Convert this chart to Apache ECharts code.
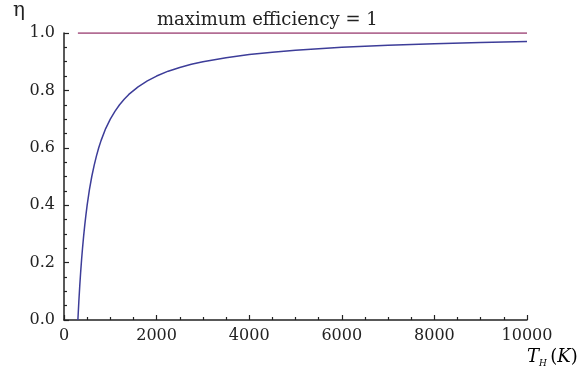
<!DOCTYPE html>
<html>
<head>
<meta charset="utf-8">
<script src="https://cdn.jsdelivr.net/npm/echarts@6/dist/echarts.min.js"></script>
<style>html,body{margin:0;padding:0;background:#fff;}#c{width:585px;height:379px;}</style>
</head>
<body>
<div id="c"></div>
<script>
// Efficiency curve
const curveT = [300, 320, 340, 360, 380, 400, 425, 450, 475, 500, 550, 600, 650, 700, 750, 800, 900, 1000, 1100, 1200, 1300, 1400, 1600, 1800, 2000, 2250, 2500, 2750, 3000, 3500, 4000, 4500, 5000, 6000, 7000, 8000, 9000, 10000];
const curveEta = [0, 0.0625, 0.118, 0.167, 0.211, 0.25, 0.294, 0.333, 0.368, 0.40, 0.455, 0.50, 0.538, 0.571, 0.60, 0.625, 0.667, 0.70, 0.727, 0.75, 0.769, 0.786, 0.8125, 0.833, 0.85, 0.867, 0.88, 0.891, 0.90, 0.914, 0.925, 0.933, 0.94, 0.95, 0.957, 0.9625, 0.967, 0.97];
// Maximum efficiency line
const maxT = [300, 10000];
const maxEta = [1, 1];
const xTicks = [0, 2000, 4000, 6000, 8000, 10000];
const yTicks = [0.0, 0.2, 0.4, 0.6, 0.8, 1.0];
const labelText = 'maximum efficiency = 1';

const serif = '"DejaVu Serif", "Liberation Serif", serif';
const chart = echarts.init(document.getElementById('c'));
chart.setOption({
  animation: false,
  backgroundColor: '#fff',
  grid: {left: 64, right: 58, top: 33, bottom: 59, containLabel: false},
  xAxis: {
    type: 'value', min: xTicks[0], max: xTicks[xTicks.length - 1], interval: xTicks[1] - xTicks[0],
    axisLine: {lineStyle: {color: '#222', width: 1.5}},
    axisTick: {inside: true, length: 5, lineStyle: {color: '#222', width: 1.2}},
    minorTick: {show: true, splitNumber: 4, length: 3, lineStyle: {color: '#222', width: 1.2}},
    splitLine: {show: false},
    axisLabel: {fontFamily: serif, fontSize: 16, color: '#222', margin: 8, formatter: v => String(v)}
  },
  yAxis: {
    type: 'value', min: yTicks[0], max: yTicks[yTicks.length - 1], interval: 0.2,
    axisLine: {show: true, lineStyle: {color: '#222', width: 1.5}},
    axisTick: {show: true, inside: true, length: 5, lineStyle: {color: '#222', width: 1.2}},
    minorTick: {show: true, splitNumber: 4, length: 3, lineStyle: {color: '#222', width: 1.2}},
    splitLine: {show: false},
    axisLabel: {fontFamily: serif, fontSize: 16, color: '#222', margin: 9, formatter: v => v.toFixed(1)}
  },
  series: [
    {
      type: 'line', data: curveT.map((t, i) => [t, curveEta[i]]),
      showSymbol: false,
      lineStyle: {color: '#3d3d99', width: 1.5}
    },
    {
      type: 'line', data: maxT.map((t, i) => [t, maxEta[i]]),
      showSymbol: false,
      lineStyle: {color: '#993d71', width: 1.6}
    }
  ],
  graphic: [
    {type: 'text', left: 157, top: 11, style: {text: labelText, font: '18px ' + serif, fill: '#222'}},
    {type: 'text', left: 13, top: 1, style: {text: 'η', font: '20px ' + serif, fill: '#222'}},
    {type: 'text', left: 527, top: 348, style: {
      text: '{t|T}{s|H} {p|(}{k|K}{p|)}',
      rich: {
        t: {fontFamily: serif, fontStyle: 'italic', fontSize: 18, color: '#222'},
        s: {fontFamily: serif, fontStyle: 'italic', fontSize: 9, color: '#222', padding: [13, 0, 0, 0]},
        p: {fontFamily: serif, fontSize: 18, color: '#222'},
        k: {fontFamily: serif, fontStyle: 'italic', fontSize: 18, color: '#222'}
      }
    }}
  ]
});
</script>
</body>
</html>
